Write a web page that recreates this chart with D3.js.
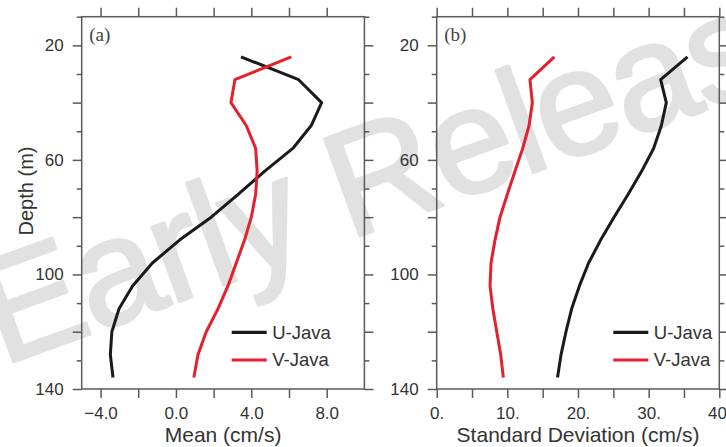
<!DOCTYPE html>
<html>
<head>
<meta charset="utf-8">
<script src="https://cdn.jsdelivr.net/npm/d3@7"></script>
<style>
  html, body { margin: 0; padding: 0; background: #fff; }
  svg { display: block; }
</style>
</head>
<body>
<div id="chart"></div>
<script>
// Depth levels (m) of the profiles
const depths = [24, 32, 40, 48, 56, 64, 72, 80, 88, 96, 104, 112, 120, 128, 136];

// Mean velocity (cm/s)
const uMean = [3.45, 6.51, 7.73, 7.18, 6.2, 4.7, 3.3, 1.87, 0.19, -1.25, -2.3, -3.02, -3.40, -3.48, -3.34];
const vMean = [6.12, 3.13, 2.92, 3.73, 4.23, 4.31, 4.23, 4.0, 3.64, 3.2, 2.76, 2.23, 1.61, 1.17, 0.95];

// Standard deviation (cm/s)
const uStd = [35.5, 31.7, 32.5, 31.8, 30.7, 29.0, 27.1, 25.1, 23.2, 21.5, 20.2, 19.1, 18.3, 17.6, 17.1];
const vStd = [16.65, 13.2, 13.54, 13.07, 12.17, 11.08, 10.0, 8.96, 8.25, 7.69, 7.55, 7.95, 8.5, 9.06, 9.43];

// Axis ticks and labels
const depthTicks = [10, 20, 30, 40, 50, 60, 70, 80, 90, 100, 110, 120, 130, 140];
const depthLabels = [20, 60, 100, 140];
const meanTicks = [-4, -2, 0, 2, 4, 6, 8];
const meanLabels = [-4, 0, 4, 8];
const stdTicks = [0, 5, 10, 15, 20, 25, 30, 35, 40];
const stdLabels = [0, 10, 20, 30, 40];

const seriesNames = ["U-Java", "V-Java"];
const seriesColors = ["#1a1a1a", "#e3202e"];

const W = 726, H = 447;
const FONT = "'Liberation Sans', Arial, Helvetica, sans-serif";
const AXIS_COLOR = "#5a5a5a";
const TEXT_COLOR = "#333";

const svg = d3.select("#chart").append("svg")
  .attr("width", W).attr("height", H)
  .attr("viewBox", `0 0 ${W} ${H}`);

// Faint publisher stamp behind the plots
svg.append("text")
  .attr("transform", "translate(2,366) rotate(-20)")
  .attr("font-family", FONT)
  .attr("font-size", 150)
  .attr("letter-spacing", -2.5)
  .attr("fill", "#e1e1e1")
  .attr("stroke", "#e1e1e1")
  .attr("stroke-width", 3)
  .attr("stroke-linejoin", "round")
  .text("Early Release");

const y = d3.scaleLinear().domain([10, 140]).range([16.7, 389]);

const panels = [
  {
    tag: "(a)", x0: 81.7, x1: 364.4, domain: [-5, 10],
    ticks: meanTicks, labels: meanLabels,
    fmt: d => (d < 0 ? "\u2212" : "") + Math.abs(d).toFixed(1),
    title: "Mean (cm/s)",
    series: [uMean, vMean],
    legendX: 231.7
  },
  {
    tag: "(b)", x0: 436.7, x1: 719.3, domain: [0, 40],
    ticks: stdTicks, labels: stdLabels,
    fmt: d => d + ".",
    title: "Standard Deviation (cm/s)",
    series: [uStd, vStd],
    legendX: 613.3
  }
];

function styleAxis(g) {
  g.select(".domain").remove();
  g.selectAll(".tick line").attr("stroke", AXIS_COLOR).attr("stroke-width", 1.5);
  g.selectAll(".tick text")
    .attr("fill", TEXT_COLOR)
    .attr("font-family", FONT)
    .attr("font-size", 17);
}

panels.forEach((p, i) => {
  const x = d3.scaleLinear().domain(p.domain).range([p.x0, p.x1]);
  const top = y.range()[0], bottom = y.range()[1];
  const g = svg.append("g");

  // Depth axes, left (labelled) and right (ticks only)
  const depthFmt = d => depthLabels.includes(d) ? String(d) : "";
  const left = g.append("g").attr("transform", `translate(${p.x0},0)`)
    .call(d3.axisLeft(y).tickValues(depthTicks).tickFormat(depthFmt)
      .tickSize(9).tickPadding(9).tickSizeOuter(0));
  styleAxis(left);
  left.selectAll(".tick line").attr("x2", d => d % 20 === 0 ? -9 : -5);
  left.selectAll(".tick text").filter(d => !depthLabels.includes(d)).remove();

  const right = g.append("g").attr("transform", `translate(${p.x1},0)`)
    .call(d3.axisRight(y).tickValues(depthTicks).tickFormat("")
      .tickSize(9).tickSizeOuter(0));
  styleAxis(right);
  right.selectAll(".tick text").remove();
  right.selectAll(".tick line").attr("x2", d => d % 20 === 0 ? 9 : 5);

  // Value axes, bottom (labelled) and top (ticks only)
  const bottomAxis = g.append("g").attr("transform", `translate(0,${bottom})`)
    .call(d3.axisBottom(x).tickValues(p.ticks)
      .tickFormat(d => p.labels.includes(d) ? p.fmt(d) : "")
      .tickSize(9).tickPadding(9).tickSizeOuter(0));
  styleAxis(bottomAxis);
  bottomAxis.selectAll(".tick text").filter(d => !p.labels.includes(d)).remove();

  const topAxis = g.append("g").attr("transform", `translate(0,${top})`)
    .call(d3.axisTop(x).tickValues(p.ticks).tickFormat("")
      .tickSize(9).tickSizeOuter(0));
  styleAxis(topAxis);
  topAxis.selectAll(".tick text").remove();

  // Frame
  g.append("rect")
    .attr("x", p.x0).attr("y", top)
    .attr("width", p.x1 - p.x0).attr("height", bottom - top)
    .attr("fill", "none").attr("stroke", AXIS_COLOR).attr("stroke-width", 1.5);

  // Profiles
  p.series.forEach((vals, k) => {
    const line = d3.line()
      .x(d => x(d))
      .y((d, j) => y(depths[j]));
    g.append("path")
      .datum(vals)
      .attr("d", line)
      .attr("fill", "none")
      .attr("stroke", seriesColors[k])
      .attr("stroke-width", 3)
      .attr("stroke-linejoin", "round");
  });

  // Panel tag
  g.append("text")
    .attr("x", p.x0 + 7.5).attr("y", 41)
    .attr("font-family", "'Liberation Serif', 'Times New Roman', serif")
    .attr("font-size", 19)
    .attr("fill", "#444")
    .text(p.tag);

  // Legend
  const legendRows = [332.3, 360];
  seriesNames.forEach((name, k) => {
    g.append("line")
      .attr("x1", p.legendX).attr("x2", p.legendX + 35)
      .attr("y1", legendRows[k]).attr("y2", legendRows[k])
      .attr("stroke", seriesColors[k]).attr("stroke-width", 3.2);
    g.append("text")
      .attr("x", p.legendX + 40.5).attr("y", legendRows[k] + 6.3)
      .attr("font-family", FONT).attr("font-size", 18.5)
      .attr("fill", TEXT_COLOR)
      .text(name);
  });

  // Axis title
  g.append("text")
    .attr("x", (p.x0 + p.x1) / 2).attr("y", 441.5)
    .attr("text-anchor", "middle")
    .attr("font-family", FONT).attr("font-size", 21)
    .attr("fill", TEXT_COLOR)
    .text(p.title);
});

// Shared depth title
svg.append("text")
  .attr("transform", "translate(33,191) rotate(-90)")
  .attr("text-anchor", "middle")
  .attr("font-family", FONT).attr("font-size", 20)
  .attr("fill", TEXT_COLOR)
  .text("Depth (m)");
</script>
</body>
</html>
